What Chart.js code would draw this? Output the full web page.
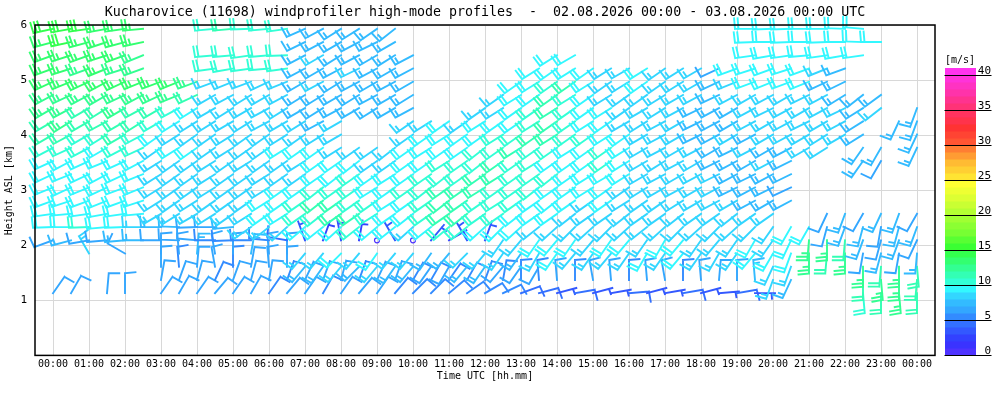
<!DOCTYPE html>
<html>
<head>
<meta charset="utf-8">
<title>Kucharovice windprofiler</title>
<script src="https://cdn.jsdelivr.net/npm/chart.js@4.4.1/dist/chart.umd.min.js"></script>
<style>
    html, body { margin: 0; padding: 0; background: #ffffff; }
    #grafico { display: block; }
</style>
</head>
<body>
<canvas id="grafico" width="1000" height="400"></canvas>
<script>
const _ = null;

const chartTitle = "Kucharovice (11698) windprofiler high-mode profiles  -  02.08.2026 00:00 - 03.08.2026 00:00 UTC";
const xTitle = "Time UTC [hh.mm]";
const yTitle = "Height ASL [km]";
const unitLabel = "[m/s]";

const tickLabels = ["00:00", "01:00", "02:00", "03:00", "04:00", "05:00", "06:00", "07:00", "08:00",
    "09:00", "10:00", "11:00", "12:00", "13:00", "14:00", "15:00", "16:00", "17:00", "18:00",
    "19:00", "20:00", "21:00", "22:00", "23:00", "00:00"];

const colorbarTicks = [0, 5, 10, 15, 20, 25, 30, 35, 40];

// profile times (hours after 02.08. 00:00 UTC)
const times = [0, 0.5, 1, 1.5, 2, 2.5, 3, 3.5, 4, 4.5,
    5, 5.5, 6, 6.5, 7, 7.5, 8, 8.5, 9, 9.5,
    10, 10.5, 11, 11.5, 12, 12.5, 13, 13.5, 14, 14.5,
    15, 15.5, 16, 16.5, 17, 17.5, 18, 18.5, 19, 19.5,
    20, 20.5, 21, 21.5, 22, 22.5, 23, 23.5, 24];

// range gates (km ASL), bottom to top
const heights = [1.13, 1.37, 1.61, 1.85, 2.09, 2.33, 2.57, 2.81, 3.05, 3.29, 3.53,
    3.77, 4.01, 4.25, 4.49, 4.73, 4.97, 5.21, 5.45, 5.69, 5.93];

// wind speed [m/s], one row per height, one column per time
const speedRows = [
    [6, 6, _, 6, 6, _, 6, 6, 6, 6,   6, 6, 5, 6, 6, 5, 6, 6, 6, 5,   5, 5, 5, 5, 5, 5, 4, 4, 3, 4,   3, 3, 4, 3, 3, 4, 3, 3, 4, 3,   _, _, _, _, _, 10, 11, 12, 11],
    [_, _, _, _, _, _, 6, 6, 6, 5,   6, 6, 6, 5, 6, 6, 6, 5, 6, 6,   5, 5, 5, 5, 5, 5, 5, 5, 6, 5,   6, 6, 5, 6, 6, 5, 6, 6, 6, 7,   8, 7, _, _, _, 11, 12, 12, 11],
    [_, _, _, _, _, _, 6, 5, 6, 6,   5, 6, 6, 6, 7, 7, 8, 7, 8, 7,   7, 6, 6, 7, 7, 6, 6, 6, _, _,   _, _, _, _, _, _, _, _, _, _,   8, 8, _, _, _, 12, 11, 12, 11],
    [_, _, 8, _, 6, _, 6, 6, 7, 6,   6, 7, 6, 6, 8, 8, 9, 8, 9, 8,   8, 7, 7, 8, 8, 8, 7, 8, 9, 8,   8, 8, 8, 9, 8, 9, 8, 8, 8, 9,   9, 9, 12, 11, 12, 6, 7, 6, 7],
    [6, 7, 6, 6, 7, 7, 6, 6, 6, 5,   5, 5, 5, 4, 3, 2, 3, 2, 0, 3,   0, 3, 2, 3, 3, 8, 8, 9, 9, 9,   8, 9, 9, 8, 9, 9, 8, 8, 8, 9,   8, 9, 12, 12, 11, 7, 6, 7, 6],
    [9, 9, 10, 9, 9, 8, 7, 7, 6, 6,   7, 8, 8, 8, 9, 9, 9, 10, 9, 9,   8, 9, 10, 10, 9, 9, 9, 8, 8, 8,   8, 8, 8, 8, 8, 8, 8, 8, 8, 8,   8, 9, 9, 6, 7, 7, 6, 7, 7],
    [9, 9, 9, 9, 9, 9, 8, 8, 8, 8,   8, 8, 9, 9, 10, 10, 11, 11, 10, 9,   9, 10, 11, 11, 10, 10, 9, 9, 9, 8,   8, 8, 8, 8, 8, 8, 8, 8, 8, 8,   8, _, _, 6, 7, 6, 7, 7, 6],
    [9, 9, 9, 9, 9, 9, 8, 8, 8, 8,   8, 8, 9, 9, 10, 11, 11, 10, 10, 9,   9, 10, 11, 11, 10, 10, 10, 9, 9, 9,   8, 9, 8, 8, 8, 8, 8, 8, 8, 7,   7, 7, _, _, _, _, _, _, _],
    [9, 9, 9, 9, 9, 9, 8, 8, 8, 8,   8, 8, 8, 9, 9, 10, 10, 10, 9, 9,   10, 10, 11, 11, 11, 10, 10, 10, 9, 9,   9, 9, 8, 8, 8, 8, 8, 8, 7, 7,   7, 6, _, _, _, _, _, _, _],
    [9, 9, 9, 9, 9, 9, 8, 8, 8, 8,   8, 8, 8, 8, 8, 9, 9, 10, 9, 9,   9, 10, 10, 10, 11, 11, 10, 10, 10, 9,   9, 9, 9, 8, 8, 8, 8, 8, 7, 7,   7, 7, _, _, _, _, _, _, _],
    [9, 9, 9, 9, 9, 9, 8, 8, 8, 8,   8, 8, 8, 8, 8, 9, 9, 9, 8, 8,   9, 9, 10, 10, 10, 11, 10, 10, 9, 9,   9, 10, 9, 8, 8, 8, 8, 7, 7, 7,   8, 7, _, _, _, 7, 6, _, _],
    [10, 10, 10, 9, 10, 10, 8, 9, 9, 8,   8, 8, 8, 9, 9, 9, 8, 8, 8, 8,   9, 9, 9, 9, 10, 10, 11, 10, 10, 9,   9, 10, 9, 8, 8, 8, 8, 7, 7, 8,   7, 7, 8, 8, _, 7, 7, _, 7],
    [11, 11, 10, 10, 11, 10, 9, 8, 8, 8,   8, 8, 8, 8, 8, 8, 8, _, _, _,   8, 9, 9, 9, 9, 10, 10, 11, 11, 10,   10, 9, 9, 8, 8, 8, 7, 7, 8, 7,   8, 8, 8, 8, 8, 7, _, _, 7],
    [11, 12, 11, 11, 11, 11, 10, 9, 8, 8,   8, 8, 8, 8, 8, 7, 8, _, _, _,   8, 8, 9, 8, 9, 9, 9, 10, 11, 10,   9, 9, 8, 8, 8, 8, 7, 7, 7, 8,   8, 8, 8, 8, 8, 7, _, 7, 7],
    [12, 12, 11, 11, 12, 11, 11, 10, 9, 8,   8, 8, 8, 8, 7, 7, 7, 7, 7, 7,   7, _, _, _, 8, 8, 9, 10, 11, 10,   9, 9, 8, 8, 8, 8, 7, 7, 7, 8,   8, 8, 8, 8, 8, 7, 8, _, 7],
    [12, 12, 12, 12, 12, 12, 12, 12, 11, 8,   8, 8, 8, 8, 7, 7, 7, 7, 7, 7,   7, _, _, _, _, 8, 9, 9, 11, 10,   9, 8, 8, 8, 8, 8, 8, 7, 8, 8,   8, 8, 8, 8, 7, 7, 7, _, _],
    [13, 13, 13, 13, 13, 13, 13, 13, 12, 8,   8, 8, 8, 8, 7, 8, 7, 7, 7, 7,   7, _, _, _, _, _, 9, 9, 10, 11,   9, 8, 8, 9, 8, 8, 8, 7, 8, 9,   9, 9, 9, 7, 7, _, _, _, _],
    [13, 13, 12, 13, 12, 12, _, _, _, 10,   10, 10, 10, 10, 7, 7, 7, 8, 7, 7,   7, _, _, _, _, _, _, 9, 9, 9,   9, 8, 8, 9, 8, 8, 8, 6, 9, 9,   9, 9, 9, 8, 7, _, _, _, _],
    [13, 13, 13, 13, 13, 12, _, _, _, 10,   10, 10, 10, 10, 7, 8, 7, 7, 7, 7,   7, _, _, _, _, _, _, _, 9, 9,   _, _, _, _, _, _, _, _, _, 9,   9, 9, 9, 9, 9, 9, _, _, _],
    [13, 14, 13, 13, 13, 13, _, _, _, _,   _, _, _, _, 7, 7, 7, 7, 7, 7,   _, _, _, _, _, _, _, _, _, _,   _, _, _, _, _, _, _, _, _, 9,   9, 9, 9, 9, 9, 9, 9, _, _],
    [14, 14, 14, 13, 13, 13, _, _, _, 10,   11, 10, 10, 10, 7, 7, 7, 7, 7, 7,   _, _, _, _, _, _, _, _, _, _,   _, _, _, _, _, _, _, _, _, 9,   9, 9, 9, 9, 9, 9, _, _, _]
];

// wind direction [deg, from], same layout
const dirRows = [
    [35, 30, _, 5, 0, _, 35, 30, 35, 40,   35, 30, 35, 40, 35, 30, 35, 40, 35, 40,   45, 45, 50, 55, 60, 65, 70, 75, 75, 80,   75, 80, 85, 75, 80, 80, 75, 85, 80, 90,   _, _, _, _, _, 175, 180, 175, 180],
    [_, _, _, _, _, _, 10, 20, 15, 25,   20, 15, 10, 20, 25, 20, 15, 20, 25, 20,   30, 30, 35, 30, 20, 10, 0, 355, 355, 0,   350, 355, 0, 355, 350, 0, 355, 5, 0, 355,   200, 205, _, _, _, 180, 175, 180, 185],
    [_, _, _, _, _, _, 0, 355, 5, 350,   0, 10, 355, 0, 220, 215, 220, 225, 220, 215,   220, 215, 210, 220, 215, 220, 215, 210, _, _,   _, _, _, _, _, _, _, _, _, _,   205, 200, _, _, _, 180, 185, 180, 175],
    [_, _, 330, _, 300, _, 0, 355, 5, 350,   0, 10, 355, 0, 220, 220, 225, 220, 215, 220,   220, 215, 220, 225, 220, 215, 215, 210, 215, 220,   215, 220, 215, 210, 215, 220, 215, 210, 215, 220,   210, 200, 180, 185, 180, 190, 195, 190, 185],
    [250, 255, 260, 265, 265, 270, 270, 272, 275, 270,   268, 270, 275, 280, 340, 20, 350, 10, 0, 330,   0, 40, 60, 330, 20, 215, 220, 215, 220, 215,   220, 215, 220, 215, 210, 220, 215, 220, 215, 210,   215, 205, 185, 180, 185, 200, 195, 200, 205],
    [268, 270, 268, 265, 268, 270, 270, 272, 268, 270,   265, 235, 232, 228, 230, 232, 228, 232, 230, 232,   228, 232, 230, 232, 228, 225, 228, 232, 228, 225,   228, 225, 228, 232, 228, 225, 228, 225, 228, 225,   215, 210, 210, 195, 200, 195, 190, 195, 200],
    [262, 265, 262, 260, 262, 265, 240, 238, 240, 238,   235, 238, 235, 238, 235, 232, 235, 235, 238, 235,   232, 235, 235, 232, 235, 235, 232, 235, 235, 232,   235, 235, 232, 235, 235, 232, 235, 235, 232, 235,   235, _, _, 205, 200, 210, 205, 200, 210],
    [250, 252, 250, 248, 250, 252, 238, 235, 238, 235,   235, 235, 238, 235, 235, 232, 235, 235, 235, 238,   235, 235, 232, 235, 235, 238, 235, 235, 232, 235,   235, 235, 238, 235, 235, 238, 240, 242, 240, 242,   240, 242, _, _, _, _, _, _, _],
    [248, 245, 248, 245, 250, 248, 238, 235, 235, 238,   235, 235, 238, 235, 235, 232, 235, 235, 238, 235,   235, 232, 235, 235, 238, 235, 235, 232, 235, 235,   238, 235, 235, 238, 240, 242, 240, 242, 244, 242,   244, 245, _, _, _, _, _, _, _],
    [245, 248, 245, 242, 245, 248, 238, 235, 235, 238,   235, 235, 238, 235, 235, 235, 232, 235, 235, 238,   235, 235, 232, 235, 235, 238, 235, 235, 232, 235,   238, 240, 238, 240, 242, 240, 242, 244, 242, 244,   242, 244, _, _, _, _, _, _, _],
    [245, 242, 245, 248, 245, 242, 238, 235, 235, 238,   235, 238, 235, 235, 238, 235, 235, 232, 235, 235,   235, 235, 238, 235, 232, 235, 235, 238, 235, 235,   235, 235, 238, 240, 238, 242, 240, 244, 242, 240,   242, 244, _, _, _, 215, 210, _, _],
    [242, 245, 242, 240, 242, 245, 235, 238, 235, 235,   238, 235, 235, 238, 235, 235, 238, 235, 235, 232,   235, 238, 235, 235, 232, 235, 238, 235, 235, 238,   235, 235, 238, 240, 242, 240, 242, 240, 244, 242,   240, 242, 240, 238, _, 215, 210, _, 205],
    [240, 242, 240, 238, 240, 242, 235, 238, 235, 235,   238, 235, 235, 238, 235, 238, 240, _, _, _,   235, 235, 238, 235, 235, 238, 235, 235, 238, 235,   235, 238, 235, 240, 242, 240, 244, 242, 240, 242,   240, 242, 240, 238, 240, 238, _, _, 205],
    [240, 238, 240, 242, 240, 238, 240, 238, 238, 238,   240, 238, 242, 240, 238, 242, 240, _, _, _,   235, 238, 235, 235, 238, 235, 235, 238, 235, 235,   238, 235, 240, 238, 242, 240, 244, 242, 240, 242,   240, 242, 244, 240, 242, 238, _, 205, 200],
    [240, 242, 240, 238, 240, 242, 240, 242, 238, 240,   238, 240, 242, 238, 240, 238, 242, 240, 238, 240,   242, _, _, _, 235, 238, 235, 235, 238, 235,   235, 238, 235, 240, 238, 242, 244, 242, 240, 242,   244, 242, 240, 242, 244, 238, 232, _, 200],
    [242, 245, 242, 240, 245, 242, 245, 248, 245, 240,   242, 238, 240, 242, 238, 238, 240, 238, 242, 240,   238, _, _, _, _, 235, 238, 235, 235, 238,   235, 238, 235, 235, 238, 240, 242, 245, 242, 240,   242, 240, 244, 242, 238, 232, 234, _, _],
    [245, 248, 245, 242, 245, 248, 250, 248, 250, 250,   248, 250, 245, 248, 240, 242, 238, 242, 240, 242,   240, _, _, _, _, _, 235, 238, 235, 235,   238, 235, 238, 235, 235, 238, 240, 245, 248, 250,   248, 250, 248, 245, 244, _, _, _, _],
    [250, 252, 250, 248, 252, 250, _, _, _, 262,   260, 262, 265, 262, 242, 240, 242, 244, 242, 240,   242, _, _, _, _, _, _, 238, 235, 238,   235, 238, 240, 238, 235, 238, 240, 245, 250, 252,   250, 252, 250, 248, 250, _, _, _, _],
    [250, 252, 250, 252, 250, 248, _, _, _, 265,   265, 262, 265, 268, 242, 240, 238, 242, 240, 238,   242, _, _, _, _, _, _, _, 238, 240,   _, _, _, _, _, _, _, _, _, 262,   260, 262, 265, 262, 260, 262, _, _, _],
    [255, 258, 255, 252, 255, 258, _, _, _, _,   _, _, _, _, 244, 242, 240, 242, 244, 240,   _, _, _, _, _, _, _, _, _, _,   _, _, _, _, _, _, _, _, _, 268,   270, 268, 270, 268, 270, 272, 270, _, _],
    [258, 260, 262, 260, 262, 265, _, _, _, 265,   265, 268, 265, 262, 246, 242, 238, 238, 235, 232,   _, _, _, _, _, _, _, _, _, _,   _, _, _, _, _, _, _, _, _, 270,   268, 268, 270, 270, 272, 275, _, _, _]
];

// colour scale of the speed legend: [m/s, hue]
const hueStops = [[0, 248], [2, 236], [4, 222], [5, 214], [6, 206], [7, 200], [8, 192], [9, 182],
    [10, 168], [11, 158], [12, 148], [13, 138], [14, 128], [15, 118], [17, 100], [20, 82],
    [22, 70], [24, 60], [25, 52], [27, 40], [29, 22], [30, 10], [32, 0], [35, 340], [38, 318], [41, 298]];

const monoFont = "'DejaVu Sans Mono', 'Liberation Mono', monospace";

function speedColor(v) {
    const s = Math.floor(v);
    let hue = hueStops[hueStops.length - 1][1];
    for (let k = 0; k < hueStops.length - 1; k++) {
        const [v0, h0] = hueStops[k];
        const [v1, h1] = hueStops[k + 1];
        if (s >= v0 && s <= v1) {
            let d = h1 - h0;
            if (d > 180) d -= 360;
            hue = h0 + (s - v0) / (v1 - v0) * d;
            break;
        }
    }
    hue = (hue + 360) % 360;
    return `hsl(${hue.toFixed(0)}, 100%, 60%)`;
}

function drawBarb(ctx, x, y, spd, dir) {
    ctx.strokeStyle = speedColor(spd);
    ctx.lineWidth = 1.9;
    if (spd < 1.25) {
        ctx.lineWidth = 1.2;
        ctx.beginPath();
        ctx.arc(x, y, 2.5, 0, Math.PI * 2);
        ctx.stroke();
        return;
    }
    const a = dir * Math.PI / 180;
    const ux = Math.sin(a);
    const uy = -Math.cos(a);
    const staff = 20;
    const fa = Math.atan2(uy, ux) + 85 * Math.PI / 180;
    const fx = Math.cos(fa);
    const fy = Math.sin(fa);

    ctx.beginPath();
    ctx.moveTo(x, y);
    ctx.lineTo(x + ux * staff, y + uy * staff);

    const rounded = Math.round(spd / 2.5) * 2.5;
    const full = Math.floor(rounded / 5);
    const half = rounded % 5 >= 2.5;
    let pos = staff;
    for (let k = 0; k < full; k++) {
        const bx = x + ux * pos;
        const by = y + uy * pos;
        ctx.moveTo(bx, by);
        ctx.lineTo(bx + fx * 10.5, by + fy * 10.5);
        pos -= 3.5;
    }
    if (half) {
        if (full === 0) pos -= 3.5;
        const bx = x + ux * pos;
        const by = y + uy * pos;
        ctx.moveTo(bx, by);
        ctx.lineTo(bx + fx * 5.5, by + fy * 5.5);
    }
    ctx.stroke();
}

function drawColorbar(ctx) {
    const left = 945;
    const right = 976;
    const bottom = 355;
    const step = 7;
    for (let v = 0; v <= 40; v++) {
        ctx.fillStyle = speedColor(v);
        ctx.fillRect(left, bottom - step * (v + 1), right - left, step + 0.5);
    }
    ctx.strokeStyle = "#000";
    ctx.lineWidth = 1;
    ctx.fillStyle = "#000";
    ctx.font = "11px " + monoFont;
    ctx.textAlign = "right";
    ctx.textBaseline = "alphabetic";
    colorbarTicks.forEach(v => {
        const y = Math.round(bottom - step * v) + 0.5;
        ctx.beginPath();
        ctx.moveTo(left, y);
        ctx.lineTo(991, y);
        ctx.stroke();
        ctx.fillText(String(v), 991, y - 2);
    });
    ctx.font = "10px " + monoFont;
    ctx.textAlign = "left";
    ctx.fillText(unitLabel, 945, 63);
}

const windPlugin = {
    id: "windBarbs",
    afterDatasetsDraw(chart) {
        const ctx = chart.ctx;
        const area = chart.chartArea;
        const meta = chart.getDatasetMeta(0);
        const raw = chart.data.datasets[0].data;
        ctx.save();
        ctx.lineCap = "square";
        meta.data.forEach((el, k) => drawBarb(ctx, el.x, el.y, raw[k].s, raw[k].d));

        // frame round the plot
        ctx.strokeStyle = "#000";
        ctx.lineWidth = 1.5;
        ctx.strokeRect(area.left, area.top, area.right - area.left, area.bottom - area.top);

        // titles
        ctx.fillStyle = "#000";
        ctx.textAlign = "center";
        ctx.textBaseline = "middle";
        ctx.font = "13.3px " + monoFont;
        ctx.fillText(chartTitle, (area.left + area.right) / 2, 13);
        ctx.font = "10px " + monoFont;
        ctx.fillText(xTitle, (area.left + area.right) / 2, 376);
        ctx.save();
        ctx.translate(9, (area.top + area.bottom) / 2);
        ctx.rotate(-Math.PI / 2);
        ctx.fillText(yTitle, 0, 0);
        ctx.restore();

        drawColorbar(ctx);
        ctx.restore();
    }
};

document.addEventListener("DOMContentLoaded", () => {
    const points = [];
    heights.forEach((h, level) => {
        times.forEach((t, i) => {
            const s = speedRows[level][i];
            if (s === null) return;
            points.push({ x: t, y: h, s: s, d: dirRows[level][i] });
        });
    });

    new Chart(document.getElementById("grafico"), {
        type: "scatter",
        data: {
            datasets: [{
                label: "wind",
                data: points,
                pointRadius: 0,
                pointHoverRadius: 0,
                clip: false
            }]
        },
        options: {
            responsive: false,
            animation: false,
            events: [],
            layout: { padding: { top: 25, right: 65, left: 0, bottom: 0 } },
            plugins: {
                legend: { display: false },
                tooltip: { enabled: false },
                title: { display: false }
            },
            scales: {
                x: {
                    type: "linear",
                    min: -0.5,
                    max: 24.5,
                    afterBuildTicks: axis => {
                        axis.ticks = tickLabels.map((lbl, k) => ({ value: k }));
                    },
                    afterFit: scale => { scale.height = 44.6; },
                    border: { display: false },
                    grid: { color: "#d8d8d8", lineWidth: 1, drawTicks: false },
                    ticks: {
                        padding: 3,
                        autoSkip: false,
                        maxRotation: 0,
                        color: "#000",
                        font: { family: monoFont, size: 10 },
                        callback: (value, index) => tickLabels[index]
                    }
                },
                y: {
                    min: 0,
                    max: 6,
                    afterFit: scale => { scale.width = 35; },
                    border: { display: false },
                    grid: { color: "#d8d8d8", lineWidth: 1, drawTicks: false },
                    ticks: {
                        stepSize: 1,
                        padding: 8,
                        color: "#000",
                        font: { family: monoFont, size: 11 },
                        callback: value => (value === 0 ? "" : value)
                    }
                }
            }
        },
        plugins: [windPlugin]
    });
});
</script>
</body>
</html>
